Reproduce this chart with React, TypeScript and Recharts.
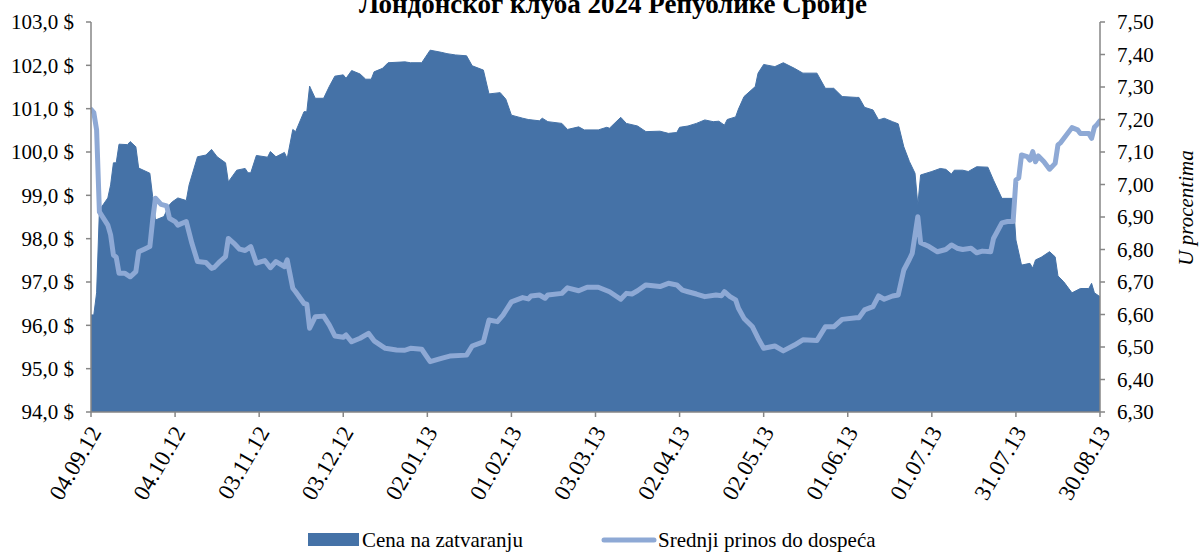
import React from "react";
import { ComposedChart, Area, Line, XAxis, YAxis } from "recharts";

// Days counted from 04.09.2012
const priceDays = [0,1,2,3,6,7,8,9,10,13,14,16,17,21,22,23,26,28,29,31,34,35,38,41,43,45,48,49,52,55,56,57,59,63,64,66,69,70,72,73,76,77,78,80,83,85,87,90,91,93,96,98,100,101,104,106,112,114,118,121,125,127,130,134,136,140,142,146,148,150,154,156,160,161,163,168,170,174,176,181,184,185,189,191,195,198,203,206,209,210,213,216,219,222,224,226,227,230,231,233,237,238,240,244,247,251,254,259,262,265,268,273,274,276,279,281,283,286,288,290,292,294,295,296,300,303,305,307,308,311,313,316,320,322,325,329,330,332,335,336,337,339,342,344,345,347,350,353,356,357,358,360];
const priceValues = [96.24,96.24,96.75,98.66,98.94,99.24,99.75,99.75,100.18,100.17,100.24,100.12,99.63,99.51,98.97,98.43,98.51,98.78,98.85,98.94,98.88,99.24,99.89,99.93,100.06,99.89,99.75,99.31,99.58,99.62,99.52,99.52,99.92,99.88,100.01,99.89,99.99,99.85,100.52,100.47,100.93,100.93,101.52,101.24,101.24,101.51,101.75,101.78,101.70,101.88,101.80,101.68,101.68,101.85,101.93,102.06,102.08,102.06,102.06,102.35,102.30,102.27,102.24,102.22,101.99,101.89,101.34,101.37,101.22,100.85,100.78,100.75,100.72,100.78,100.70,100.66,100.52,100.58,100.51,100.51,100.57,100.55,100.80,100.66,100.60,100.47,100.48,100.43,100.45,100.57,100.60,100.66,100.74,100.70,100.71,100.62,100.75,100.81,100.99,101.28,101.51,101.82,102.02,101.97,102.06,101.93,101.82,101.82,101.47,101.47,101.28,101.26,101.26,101.03,100.97,100.74,100.78,100.70,100.65,100.12,99.78,99.51,98.78,99.47,99.55,99.62,99.60,99.49,99.58,99.58,99.55,99.66,99.65,99.35,98.93,98.93,97.97,97.39,97.43,97.32,97.51,97.57,97.70,97.58,97.14,97.01,96.75,96.85,96.85,96.97,96.75,96.66];

const yieldDays = [0,1,2,3,6,7,8,9,10,12,14,16,17,19,21,22,23,25,27,28,30,31,34,36,38,41,43,44,46,48,49,51,53,55,57,59,62,64,66,69,70,72,73,76,77,78,80,83,85,87,90,91,93,96,99,101,105,109,112,114,118,121,125,128,134,136,140,142,145,147,150,154,156,157,160,162,163,168,170,174,177,181,185,189,191,193,195,198,203,206,209,211,213,216,219,223,225,226,228,230,231,233,236,238,240,244,247,251,254,259,262,265,268,273,274,276,279,281,283,286,288,290,292,293,295,296,299,302,305,307,309,311,314,316,318,321,322,325,327,329,330,331,332,334,335,336,337,338,340,342,344,345,346,350,352,353,356,357,358,359,360];
const yieldValues = [7.231,7.221,7.168,6.916,6.875,6.845,6.783,6.776,6.727,6.727,6.716,6.732,6.793,6.801,6.809,6.891,6.958,6.939,6.934,6.896,6.886,6.875,6.886,6.819,6.763,6.76,6.742,6.745,6.763,6.778,6.834,6.819,6.801,6.797,6.809,6.758,6.766,6.744,6.763,6.747,6.768,6.681,6.67,6.634,6.632,6.558,6.593,6.595,6.568,6.534,6.53,6.537,6.516,6.527,6.542,6.519,6.496,6.491,6.49,6.496,6.493,6.455,6.465,6.472,6.475,6.503,6.516,6.583,6.578,6.598,6.639,6.652,6.648,6.657,6.66,6.65,6.66,6.665,6.682,6.673,6.684,6.684,6.67,6.647,6.665,6.663,6.673,6.691,6.686,6.696,6.691,6.675,6.67,6.663,6.655,6.66,6.658,6.67,6.655,6.645,6.619,6.588,6.562,6.527,6.496,6.503,6.488,6.506,6.522,6.52,6.562,6.562,6.585,6.59,6.59,6.614,6.624,6.657,6.647,6.657,6.66,6.737,6.77,6.788,6.901,6.821,6.809,6.793,6.8,6.814,6.804,6.8,6.804,6.79,6.795,6.793,6.834,6.882,6.886,6.886,7.014,7.02,7.091,7.086,7.075,7.101,7.07,7.088,7.07,7.047,7.065,7.122,7.129,7.175,7.168,7.157,7.157,7.142,7.176,7.185,7.196];

const tickDays = [0,30,60,90,120,150,180,210,240,270,300,330,360];
const tickLabels = ["04.09.12","04.10.12","03.11.12","03.12.12","02.01.13","01.02.13","03.03.13","02.04.13","02.05.13","01.06.13","01.07.13","31.07.13","30.08.13"];
const priceTicks = [94,95,96,97,98,99,100,101,102,103];
const yieldTicks = [6.3,6.4,6.5,6.6,6.7,6.8,6.9,7.0,7.1,7.2,7.3,7.4,7.5];

const titleText = "Лондонског клуба 2024 Републике Србије";
const priceName = "Cena na zatvaranju";
const yieldName = "Srednji prinos do dospeća";
const rightAxisName = "U procentima";

const FONT = "'Liberation Serif', 'Times New Roman', serif";
const AREA_COLOR = "#4572A7";
const LINE_COLOR = "#8EA9D5";
const AXIS_COLOR = "#868686";

type Row = { day: number; price?: number; yld?: number };

const buildRows = (): Row[] => {
  const map = new Map<number, Row>();
  priceDays.forEach((d, i) => {
    const r = map.get(d) || { day: d };
    r.price = priceValues[i];
    map.set(d, r);
  });
  yieldDays.forEach((d, i) => {
    const r = map.get(d) || { day: d };
    r.yld = yieldValues[i];
    map.set(d, r);
  });
  return Array.from(map.values()).sort((a, b) => a.day - b.day);
};

const rows = buildRows();

const XTick = (props: any) => {
  const { x, y, payload } = props;
  const idx = tickDays.indexOf(payload.value);
  return (
    <g transform={`translate(${x + 4},${y + 9})`}>
      <text
        x={0}
        y={0}
        dy="0.35em"
        textAnchor="end"
        transform="rotate(-60)"
        fontFamily={FONT}
        fontSize={23}
        fill="#000"
      >
        {tickLabels[idx]}
      </text>
    </g>
  );
};

const fmtPrice = (v: number) => v.toFixed(1).replace(".", ",") + " $";
const fmtYield = (v: number) => v.toFixed(2).replace(".", ",");

export default function App() {
  return (
    <div style={{ position: "absolute", left: 0, top: 0, width: 1202, height: 552, background: "#fff" }}>
      <ComposedChart
        width={1202}
        height={552}
        data={rows}
        margin={{ top: 22, right: 0, bottom: 0, left: 0 }}
      >
        <XAxis
          dataKey="day"
          type="number"
          domain={[0, 360]}
          ticks={tickDays}
          interval={0}
          height={140}
          tickSize={5}
          stroke={AXIS_COLOR}
          axisLine={{ stroke: AXIS_COLOR, strokeWidth: 1.5 }}
          tickLine={{ stroke: AXIS_COLOR, strokeWidth: 1.5 }}
          tick={<XTick />}
          allowDataOverflow
        />
        <YAxis
          yAxisId="left"
          domain={[94, 103]}
          ticks={priceTicks}
          interval={0}
          width={91}
          tickSize={5}
          tickMargin={12}
          tickFormatter={fmtPrice}
          axisLine={{ stroke: AXIS_COLOR, strokeWidth: 1.5 }}
          tickLine={{ stroke: AXIS_COLOR, strokeWidth: 1.5 }}
          tick={{ fill: "#000", fontSize: 21, fontFamily: FONT }}
          allowDataOverflow
        />
        <YAxis
          yAxisId="right"
          orientation="right"
          domain={[6.3, 7.5]}
          ticks={yieldTicks}
          interval={0}
          width={102}
          tickSize={5}
          tickMargin={12}
          tickFormatter={fmtYield}
          axisLine={{ stroke: AXIS_COLOR, strokeWidth: 1.5 }}
          tickLine={{ stroke: AXIS_COLOR, strokeWidth: 1.5 }}
          tick={{ fill: "#000", fontSize: 21, fontFamily: FONT }}
          allowDataOverflow
        />
        <Area
          yAxisId="left"
          dataKey="price"
          type="linear"
          fill={AREA_COLOR}
          fillOpacity={1}
          stroke={AREA_COLOR}
          strokeWidth={1}
          connectNulls
          isAnimationActive={false}
          baseValue={94}
        />
        <Line
          yAxisId="right"
          dataKey="yld"
          type="linear"
          stroke={LINE_COLOR}
          strokeWidth={5}
          strokeLinejoin="round"
          strokeLinecap="round"
          dot={false}
          activeDot={false}
          connectNulls
          isAnimationActive={false}
        />
      </ComposedChart>
      <svg
        width={1202}
        height={552}
        style={{ position: "absolute", left: 0, top: 0, pointerEvents: "none" }}
      >
        <text x={613} y={13} textAnchor="middle" fontFamily={FONT} fontWeight="bold" fontSize={27} fill="#000">
          {titleText}
        </text>
        <text
          x={1193}
          y={208}
          textAnchor="middle"
          transform="rotate(-90 1193 208)"
          fontFamily={FONT}
          fontStyle="italic"
          fontSize={21}
          fill="#000"
        >
          {rightAxisName}
        </text>
        <rect x={308} y={533} width={51} height={13} fill={AREA_COLOR} />
        <text x={362} y={547} fontFamily={FONT} fontSize={21} fill="#000">
          {priceName}
        </text>
        <line x1={604} y1={540} x2={654} y2={540} stroke={LINE_COLOR} strokeWidth={5} strokeLinecap="round" />
        <text x={658} y={547} fontFamily={FONT} fontSize={21} fill="#000">
          {yieldName}
        </text>
      </svg>
    </div>
  );
}
